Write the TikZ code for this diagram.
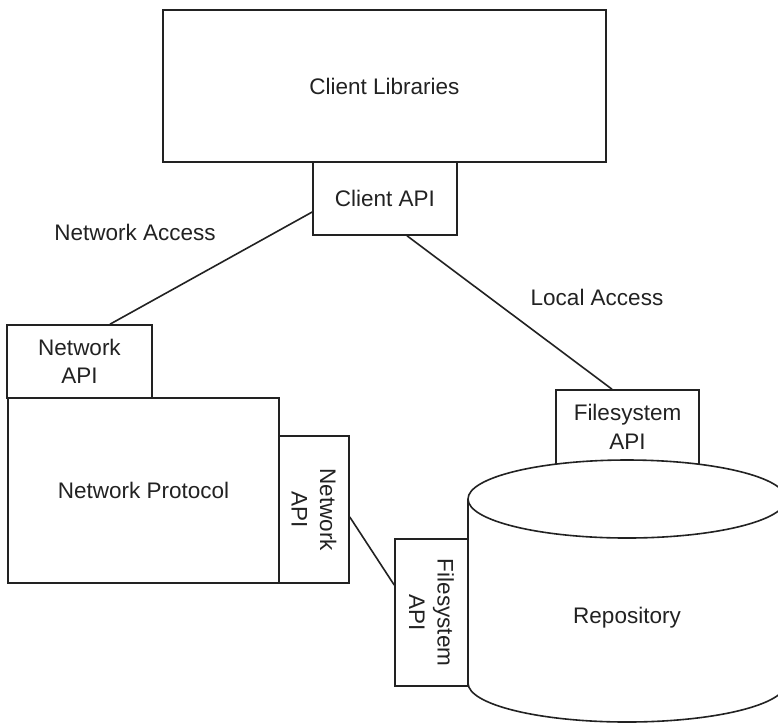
\documentclass[tikz,border=0pt]{standalone}
\usepackage{fontspec}
\setmainfont{Liberation Sans}
\usetikzlibrary{calc}
\definecolor{ink}{HTML}{222222}
\tikzset{
  box/.style={draw=ink, line width=1.6pt, fill=white, inner sep=0pt, align=center,
              text=ink, font=\fontsize{22.5}{28.5}\selectfont},
  lbl/.style={text=ink, inner sep=0pt, font=\fontsize{22.5}{28.5}\selectfont},
  conn/.style={draw=ink, line width=1.6pt}
}
\begin{document}
\begin{tikzpicture}[x=1pt,y=-1pt]
\useasboundingbox (0,0) rectangle (778,724);
\clip (0,0) rectangle (778,724);
\fill[white] (0,0) rectangle (778,724);

\node[box, minimum width=443pt, minimum height=152pt] (clib) at (384.5,86) {Client Libraries};
\node[box, minimum width=144pt, minimum height=73pt] (capi) at (385,198.5) {Client API};
\node[box, minimum width=145pt, minimum height=73pt] (napi) at (79.5,361.5) {Network\\API};
\node[box, minimum width=271pt, minimum height=185pt] (nprot) at (143.5,490.5) {Network Protocol};
\node[box, minimum width=70pt, minimum height=147pt] (napiv) at (314,509.5) {};
\node[lbl, rotate=-90, align=center] (napivt) at (napiv.center) {Network\\API};
\node[box, minimum width=143pt, minimum height=90pt] (fsapi) at (627.5,435) {};
\node[lbl, align=center] (fsapit) at (627.5,427) {Filesystem\\API};

% Repository cylinder
\path[draw=ink, line width=1.6pt, fill=white]
  (468,499) -- (468,683) arc[start angle=180, end angle=0, x radius=159, y radius=39]
  -- (786,499) arc[start angle=0, end angle=-180, x radius=159, y radius=39] -- cycle;
\draw[ink, line width=1.6pt] (468,499) arc[start angle=180, end angle=0, x radius=159, y radius=39];
\node[lbl] (repo) at (627,618) {Repository};

\node[box, minimum width=73pt, minimum height=147pt] (fsapiv) at (431.5,612.5) {};
\node[lbl, rotate=-90, align=center] (fsapivt) at (fsapiv.center) {Filesystem\\API};

\node[lbl] (netacc) at (135,232) {Network Access};
\node[lbl] (locacc) at (597,297) {Local Access};

\draw[conn] ([yshift=-13.5pt]capi.west) -- ([xshift=30.5pt]napi.north);
\draw[conn] ([xshift=22pt]capi.south) -- ([xshift=-15.5pt]fsapi.north);
\draw[conn] ([yshift=-7.5pt]napiv.east) -- ([yshift=27.5pt]fsapiv.west);
\end{tikzpicture}
\end{document}
